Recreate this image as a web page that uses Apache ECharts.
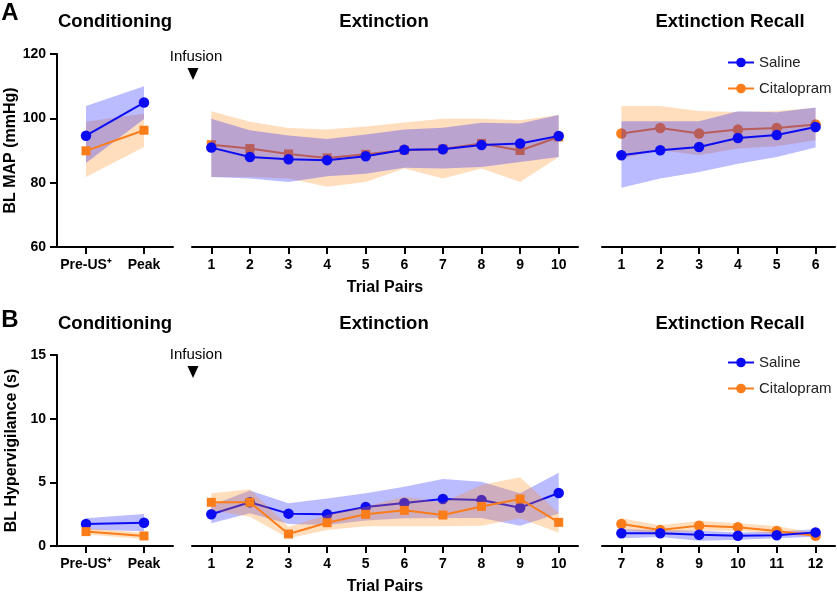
<!DOCTYPE html>
<html><head><meta charset="utf-8">
<script src="https://cdn.jsdelivr.net/npm/echarts@6/dist/echarts.min.js"></script>
<style>html,body{margin:0;padding:0;background:#fff}#c{width:837px;height:592px}</style>
</head><body><div id="c"></div>
<script>
// ---------- categories / ticks ----------
const condCats = ['Pre-US\u207A', 'Peak'];
const extCats = ['1','2','3','4','5','6','7','8','9','10'];
const recCatsA = ['1','2','3','4','5','6'];
const recCatsB = ['7','8','9','10','11','12'];
const yTicksA = [60, 80, 100, 120];
const yTicksB = [0, 5, 10, 15];

// ---------- Panel A: BL MAP (mmHg) ----------
const salineCondA   = [94.6, 104.9];
const salineCondAUp = [103.8, 110.0];
const salineCondALo = [86.1, 99.8];
const citCondA      = [89.9, 96.3];
const citCondAUp    = [98.9, 101.5];
const citCondALo    = [81.8, 91.1];

const salineExtA   = [90.9, 88.0, 87.3, 87.0, 88.2, 90.2, 90.4, 91.7, 92.2, 94.5];
const salineExtAUp = [99.9, 96.3, 94.7, 93.6, 95.0, 96.5, 97.1, 98.6, 98.4, 101.0];
const salineExtALo = [81.8, 81.3, 80.2, 82.0, 82.8, 84.6, 84.4, 84.9, 86.4, 88.0];
const citExtA      = [91.8, 90.6, 88.9, 87.7, 88.8, 90.1, 90.5, 92.2, 90.0, 94.2];
const citExtAUp    = [102.2, 98.9, 97.0, 96.5, 97.5, 98.7, 99.9, 99.9, 99.4, 101.0];
const citExtALo    = [81.8, 81.8, 81.3, 78.7, 80.2, 84.4, 81.3, 84.4, 80.2, 88.0];

const salineRecA   = [88.5, 90.1, 91.1, 93.9, 94.8, 97.3];
const salineRecAUp = [99.1, 99.1, 99.1, 102.2, 101.9, 103.4];
const salineRecALo = [78.4, 81.3, 83.3, 85.9, 88.0, 90.9];
const citRecA      = [95.3, 97.0, 95.3, 96.5, 97.0, 98.1];
const citRecAUp    = [103.8, 103.8, 102.3, 102.0, 102.3, 103.3];
const citRecALo    = [87.5, 90.1, 88.5, 90.6, 91.3, 93.2];

// ---------- Panel B: BL Hypervigilance (s) ----------
const salineCondB   = [1.73, 1.83];
const salineCondBUp = [2.17, 2.51];
const salineCondBLo = [1.30, 1.15];
const citCondB      = [1.13, 0.79];
const citCondBUp    = [1.40, 1.05];
const citCondBLo    = [0.90, 0.55];

const salineExtB   = [2.49, 3.43, 2.54, 2.49, 3.06, 3.38, 3.69, 3.61, 3.01, 4.16];
const salineExtBUp = [3.20, 4.35, 3.35, 3.74, 4.14, 4.66, 5.26, 5.05, 4.14, 5.76];
const salineExtBLo = [1.78, 2.57, 1.73, 1.65, 2.00, 2.17, 2.20, 2.20, 1.60, 2.56];
const citExtB      = [3.43, 3.43, 0.94, 1.83, 2.49, 2.80, 2.43, 3.11, 3.69, 1.86];
const citExtBUp    = [4.14, 4.45, 1.52, 2.44, 3.09, 3.87, 3.40, 4.79, 5.39, 2.57];
const citExtBLo    = [2.83, 2.30, 0.60, 1.26, 1.55, 1.55, 1.55, 1.60, 2.17, 1.05];

const salineRecB   = [1.00, 1.00, 0.89, 0.81, 0.84, 1.07];
const salineRecBUp = [1.31, 1.26, 1.20, 1.07, 1.12, 1.31];
const salineRecBLo = [0.60, 0.70, 0.42, 0.50, 0.60, 0.73];
const citRecB      = [1.73, 1.26, 1.60, 1.47, 1.18, 0.81];
const citRecBUp    = [2.17, 1.62, 1.99, 1.78, 1.57, 1.00];
const citRecBLo    = [1.26, 1.00, 1.20, 1.20, 0.94, 0.73];

// ---------- styling ----------
const FONT = '"Liberation Sans", Arial, Helvetica, sans-serif';
const SAL = '#0c0cf2', CIT = '#fb7d1a';
const SAL_BAND = 'rgba(10,10,255,0.28)', CIT_BAND = 'rgba(255,135,20,0.28)';

function band(name, g, lo, up, color, z) {
  const st = 'st_' + name;
  return [
    {name: name + '_lo', type: 'line', xAxisIndex: g, yAxisIndex: g, stack: st, data: lo,
     symbol: 'none', lineStyle: {opacity: 0}, silent: true, z: z},
    {name: name + '_d', type: 'line', xAxisIndex: g, yAxisIndex: g, stack: st,
     data: up.map((v, i) => +(v - lo[i]).toFixed(4)),
     symbol: 'none', lineStyle: {opacity: 0}, areaStyle: {color: color, opacity: 1}, silent: true, z: z}
  ];
}
function line(name, g, data, color, symbol, size, z) {
  return {name: name, type: 'line', xAxisIndex: g, yAxisIndex: g, data: data,
    symbol: symbol, symbolSize: size, lineStyle: {color: color, width: 2},
    itemStyle: {color: color, opacity: 1}, z: z};
}

const gridsX = [{left: 57, width: 116}, {left: 192, width: 386}, {left: 602, width: 233}];
const grids = [];
[{top: 54, height: 193}, {top: 355, height: 191}].forEach(r => gridsX.forEach(c =>
  grids.push({left: c.left, width: c.width, top: r.top, height: r.height,
              containLabel: false, outerBoundsMode: 'none'})));

const axisLine = {show: true, lineStyle: {color: '#000', width: 2}};
const tickLbl = {color: '#000', fontWeight: 'bold', fontSize: 14, fontFamily: FONT, margin: 11};
function xA(g, cats, named) {
  const o = {gridIndex: g, type: 'category', data: cats, boundaryGap: true,
    axisLine: axisLine, axisTick: {show: true, alignWithLabel: true, length: 7, lineStyle: {color: '#000', width: 2}},
    axisLabel: Object.assign({interval: 0}, tickLbl), splitLine: {show: false}};
  if (named) Object.assign(o, {name: 'Trial Pairs', nameLocation: 'middle', nameGap: 33,
    nameTextStyle: {color: '#000', fontWeight: 'bold', fontSize: 16, fontFamily: FONT}});
  return o;
}
function yA(g, ticks, name) {
  const min = ticks[0], max = ticks[ticks.length - 1], iv = ticks[1] - ticks[0];
  const o = {gridIndex: g, type: 'value', min: min, max: max, interval: iv, splitLine: {show: false}};
  if (name) Object.assign(o, {axisLine: axisLine,
    axisTick: {show: true, length: 7, lineStyle: {color: '#000', width: 2}},
    axisLabel: Object.assign({}, tickLbl, {margin: 11}),
    name: name, nameLocation: 'middle', nameGap: 37,
    nameTextStyle: {color: '#000', fontWeight: 'bold', fontSize: 16, fontFamily: FONT}});
  else o.show = false;
  return o;
}

const series = [].concat(
  // legend dummies
  [{name: 'Saline', type: 'line', xAxisIndex: 0, yAxisIndex: 0, data: [], symbol: 'circle', symbolSize: 10,
    lineStyle: {color: SAL, width: 2}, itemStyle: {color: SAL}},
   {name: 'Citalopram', type: 'line', xAxisIndex: 0, yAxisIndex: 0, data: [], symbol: 'circle', symbolSize: 10,
    lineStyle: {color: CIT, width: 2}, itemStyle: {color: CIT}}],
  // A conditioning
  band('cAc', 0, citCondALo, citCondAUp, CIT_BAND, 2),
  band('sAc', 0, salineCondALo, salineCondAUp, SAL_BAND, 3),
  [line('cit A cond', 0, citCondA, CIT, 'rect', 9, 4), line('sal A cond', 0, salineCondA, SAL, 'circle', 10.5, 5)],
  // A extinction
  band('cAe', 1, citExtALo, citExtAUp, CIT_BAND, 2),
  [line('cit A ext', 1, citExtA, CIT, 'rect', 9, 3)],
  band('sAe', 1, salineExtALo, salineExtAUp, SAL_BAND, 4),
  [line('sal A ext', 1, salineExtA, SAL, 'circle', 10.5, 5)],
  // A recall
  band('cAr', 2, citRecALo, citRecAUp, CIT_BAND, 2),
  [line('cit A rec', 2, citRecA, CIT, 'circle', 10.5, 3)],
  band('sAr', 2, salineRecALo, salineRecAUp, SAL_BAND, 4),
  [line('sal A rec', 2, salineRecA, SAL, 'circle', 10.5, 5)],
  // B conditioning
  band('sBc', 3, salineCondBLo, salineCondBUp, SAL_BAND, 2),
  band('cBc', 3, citCondBLo, citCondBUp, CIT_BAND, 3),
  [line('sal B cond', 3, salineCondB, SAL, 'circle', 10.5, 4), line('cit B cond', 3, citCondB, CIT, 'rect', 9, 5)],
  // B extinction
  band('sBe', 4, salineExtBLo, salineExtBUp, SAL_BAND, 2),
  [line('sal B ext', 4, salineExtB, SAL, 'circle', 10.5, 3)],
  band('cBe', 4, citExtBLo, citExtBUp, CIT_BAND, 4),
  [line('cit B ext', 4, citExtB, CIT, 'rect', 9, 5)],
  // B recall
  band('sBr', 5, salineRecBLo, salineRecBUp, SAL_BAND, 2),
  band('cBr', 5, citRecBLo, citRecBUp, CIT_BAND, 3),
  [line('cit B rec', 5, citRecB, CIT, 'circle', 10.5, 4), line('sal B rec', 5, salineRecB, SAL, 'circle', 10.5, 5)]
);

function txt(x, y, s, size, weight) {
  return {type: 'text', x: x, y: y, silent: true, style: {text: s, fontSize: size, fontWeight: weight || 'normal',
    fontFamily: FONT, fill: '#000', align: 'center', verticalAlign: 'middle'}};
}
const graphic = [
  txt(10, 13, 'A', 24, 'bold'), txt(10, 320, 'B', 24, 'bold'),
  txt(115, 22, 'Conditioning', 18.5, 'bold'), txt(384, 22, 'Extinction', 18.5, 'bold'), txt(730, 22, 'Extinction Recall', 18.5, 'bold'),
  txt(115, 324, 'Conditioning', 18.5, 'bold'), txt(384, 324, 'Extinction', 18.5, 'bold'), txt(730, 324, 'Extinction Recall', 18.5, 'bold'),
  txt(196, 57, 'Infusion', 15), txt(196, 355, 'Infusion', 15),
  {type: 'polygon', silent: true, shape: {points: [[187.5, 68], [198.5, 68], [193, 80]]}, style: {fill: '#000'}},
  {type: 'polygon', silent: true, shape: {points: [[187.5, 366], [198.5, 366], [193, 378]]}, style: {fill: '#000'}}
];

const legendBase = {data: ['Saline', 'Citalopram'], orient: 'vertical', left: 722, itemWidth: 26, itemHeight: 12,
  itemGap: 11, selectedMode: false, textStyle: {fontSize: 15, fontFamily: FONT, color: '#222'}};

const option = {
  animation: false,
  backgroundColor: '#fff',
  grid: grids,
  xAxis: [xA(0, condCats), xA(1, extCats, true), xA(2, recCatsA), xA(3, condCats), xA(4, extCats, true), xA(5, recCatsB)],
  yAxis: [yA(0, yTicksA, 'BL MAP (mmHg)'), yA(1, yTicksA), yA(2, yTicksA), yA(3, yTicksB, 'BL Hypervigilance (s)'), yA(4, yTicksB), yA(5, yTicksB)],
  legend: [Object.assign({top: 50}, legendBase), Object.assign({top: 350}, legendBase)],
  graphic: graphic,
  series: series
};
const chart = echarts.init(document.getElementById('c'), null, {renderer: 'canvas'});
chart.setOption(option);
</script></body></html>
